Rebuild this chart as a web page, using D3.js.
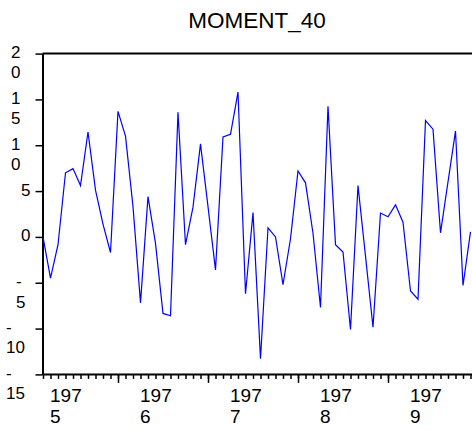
<!DOCTYPE html>
<html>
<head>
<meta charset="utf-8">
<script src="https://cdn.jsdelivr.net/npm/d3@7"></script>
<style>
  body { margin: 0; background: #fff; }
  svg { display: block; font-family: "Liberation Sans", Arial, sans-serif; }
</style>
</head>
<body>
<div id="chart"></div>
<script>
// monthly series, starts March 1975
const title = "MOMENT_40";
const firstMonth = 2; // months after Jan 1975
const values = [
  0.0, -4.5, -0.85, 7.0, 7.45, 5.6, 11.45, 5.1, 1.4, -1.7,
  13.7, 11.0, 3.3, -7.2, 4.4, -0.7, -8.35, -8.6, 13.6, -0.85,
  3.25, 10.15, 3.3, -3.6, 10.9, 11.2, 15.8, -6.2, 2.65, -13.3,
  1.0, 0.0, -5.2, -0.2, 7.2, 5.9, 0.4, -7.7, 14.25, -0.85,
  -1.65, -10.1, 5.6, -2.1, -9.85, 2.6, 2.2, 3.5, 1.6, -5.9,
  -6.8, 12.7, 11.75, 0.45, 6.0, 11.55, -5.3, 0.55
];
const years = [1975, 1976, 1977, 1978, 1979];
const yTicks = [20, 15, 10, 5, 0, -5, -10, -15];

const width = 472, height = 430;
const svg = d3.select("#chart").append("svg")
  .attr("width", width)
  .attr("height", height);

const lastMonth = firstMonth + values.length - 1;
const x = d3.scaleLinear().domain([firstMonth, lastMonth]).range([43, 470.5]);
const y = d3.scaleLinear().domain([-15, 20]).range([374.4, 53.6]);
const axisX = 42.5;

// title
svg.append("text")
  .attr("x", 257).attr("y", 28)
  .attr("text-anchor", "middle")
  .style("font-size", "22.5px")
  .text(title);

// top border
svg.append("line")
  .attr("x1", axisX).attr("x2", width)
  .attr("y1", y(20)).attr("y2", y(20))
  .attr("stroke", "#000").attr("stroke-width", 2);

// y axis
const gy = svg.append("g")
  .attr("transform", `translate(${axisX},0)`)
  .call(d3.axisLeft(y).tickValues(yTicks).tickSize(7).tickSizeOuter(0).tickFormat(""));
gy.select(".domain").attr("stroke-width", 2);
gy.selectAll(".tick line").attr("stroke-width", 1.5);

// wrapped y labels
function wrapLabel(v) {
  const s = String(v);
  if (v < 0) return ["-", s.slice(1)];
  if (s.length > 1) return s.split("");
  return [s];
}
function labelStart(lines) {
  if (lines.length === 1) return 21;
  if (lines[0] === "-") return lines[1].length > 1 ? 6 : 16;
  return 11;
}
yTicks.forEach(v => {
  const lines = wrapLabel(v);
  const t = svg.append("text")
    .attr("x", labelStart(lines))
    .attr("y", y(v) + 4.5)
    .style("font-size", "17px");
  lines.forEach((ln, k) => {
    t.append("tspan")
      .attr("x", labelStart(lines))
      .attr("dy", k === 0 ? 0 : 20.3)
      .text(ln);
  });
});

// x axis: monthly minor ticks, yearly major ticks
const xAxisY = y(-15);
const minorTicks = d3.range(firstMonth, lastMonth + 1);
const majorTicks = years.map(yr => (yr - 1975) * 12).filter(m => m >= firstMonth);

const gxMinor = svg.append("g")
  .attr("transform", `translate(0,${xAxisY})`)
  .call(d3.axisBottom(x).tickValues(minorTicks).tickSize(4.5).tickSizeOuter(0).tickFormat(""));
gxMinor.select(".domain")
  .attr("d", `M${axisX},0H${width}`)
  .attr("stroke-width", 2);
gxMinor.selectAll(".tick line").attr("stroke-width", 1.5);

const gxMajor = svg.append("g")
  .attr("transform", `translate(0,${xAxisY})`)
  .call(d3.axisBottom(x).tickValues(majorTicks).tickSize(8.5).tickSizeOuter(0).tickFormat(""));
gxMajor.select(".domain").remove();
gxMajor.selectAll(".tick line").attr("stroke-width", 1.5);

// year labels, wrapped as "197" / last digit
years.forEach(yr => {
  const s = String(yr);
  const x0 = x((yr - 1975) * 12) + 22;
  const t = svg.append("text").style("font-size", "19px");
  t.append("tspan").attr("x", x0).attr("y", 401.5).text(s.slice(0, 3));
  t.append("tspan").attr("x", x0).attr("y", 423).text(s.slice(3));
});

// series line
const line = d3.line()
  .x((d, i) => x(firstMonth + i))
  .y(d => y(d));
svg.append("path")
  .datum(values)
  .attr("fill", "none")
  .attr("stroke", "#0000ff")
  .attr("stroke-width", 1.2)
  .attr("d", line);
</script>
</body>
</html>
